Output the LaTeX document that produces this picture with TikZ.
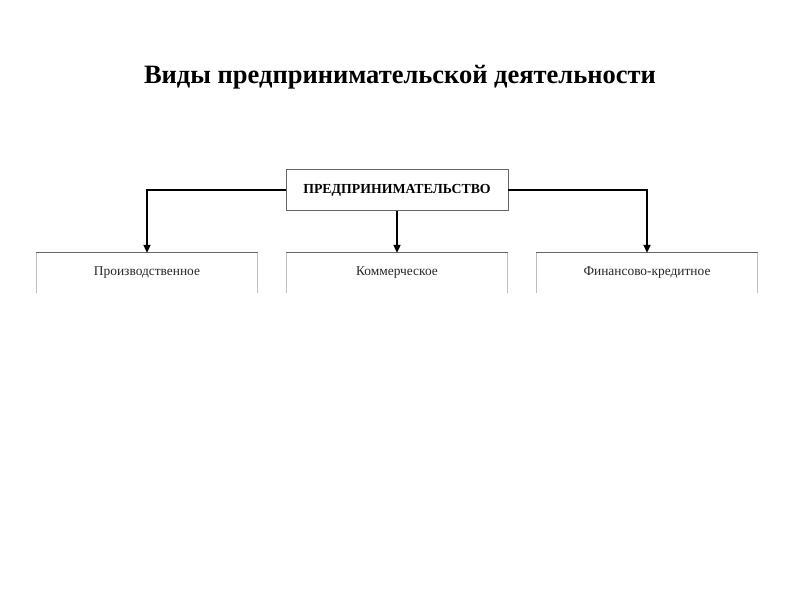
\documentclass[tikz,border=0pt]{standalone}
\usepackage{fontspec}
\setmainfont{Liberation Serif}
\usetikzlibrary{arrows.meta}
\begin{document}
\begin{tikzpicture}[x=1pt,y=-1pt,
  topbox/.style={draw=black!60, line width=0.6pt, fill=white, minimum width=222pt, minimum height=41pt, inner sep=0pt, font=\fontsize{13.8}{16}\selectfont\bfseries},
  subbox/.style={minimum width=221pt, minimum height=40pt, inner sep=0pt, font=\fontsize{13.4}{16}\selectfont, text=black!85},
  conn/.style={line width=2pt, -{Triangle[length=8pt,width=7pt]}}]
\useasboundingbox (0,0) rectangle (800,600);
\node[font=\fontsize{26.5}{30}\selectfont\bfseries] (title) at (400,77) {Виды предпринимательской деятельности};
\node[topbox] (top) at (397,190) {ПРЕДПРИНИМАТЕЛЬСТВО};
\node[subbox] (b1) at (147,273) {Производственное};
\node[subbox] (b2) at (397,273) {Коммерческое};
\node[subbox] (b3) at (647,273) {Финансово-кредитное};
\foreach \b in {b1,b2,b3}{
  \draw[black!25, line width=0.6pt] (\b.south west) -- (\b.north west);
  \draw[black!25, line width=0.6pt] (\b.south east) -- (\b.north east);
  \draw[black!60, line width=0.8pt] (\b.north west) -- (\b.north east);
}
\draw[conn] (top.west) -| (b1.north);
\draw[conn] (top.south) -- (b2.north);
\draw[conn] (top.east) -| (b3.north);
\end{tikzpicture}
\end{document}
